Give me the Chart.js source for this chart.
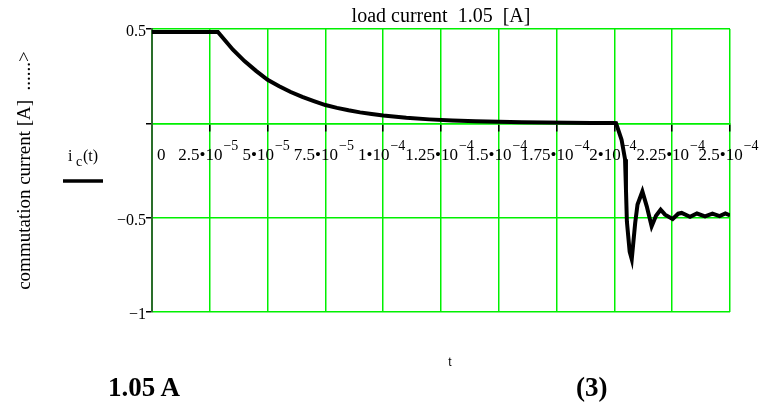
<!DOCTYPE html>
<html>
<head>
<meta charset="utf-8">
<script src="https://cdn.jsdelivr.net/npm/chart.js@4/dist/chart.umd.min.js"></script>
<style>
  body { margin: 0; background: #fff; }
  #wrap { position: relative; width: 761px; height: 410px; }
  .cap { position: absolute; font-family: 'Liberation Serif', 'Times New Roman', serif; font-weight: bold; font-size: 27px; line-height: 1; }
</style>
</head>
<body>
<div id="wrap">
  <canvas id="commutationChart" width="761" height="410"></canvas>
  <div class="cap" style="left:108px; top:374px;">1.05 A</div>
  <div class="cap" style="left:576px; top:374px;">(3)</div>
</div>
<script>
// time in seconds, current in A
const timeS = [
  0, 1e-5, 2e-5, 2.85e-5, 3.5e-5, 4e-5, 4.5e-5, 5e-5, 5.5e-5, 6e-5, 6.5e-5, 7e-5,
  7.5e-5, 8e-5, 8.5e-5, 9e-5, 9.5e-5, 1e-4, 1.1e-4, 1.2e-4, 1.3e-4, 1.4e-4, 1.5e-4,
  1.6e-4, 1.7e-4, 1.8e-4, 1.9e-4, 2.0e-4, 2.007e-4, 2.031e-4, 2.046e-4, 2.050e-4,
  2.054e-4, 2.060e-4, 2.066e-4, 2.075e-4, 2.090e-4, 2.100e-4, 2.121e-4, 2.140e-4,
  2.161e-4, 2.180e-4, 2.200e-4, 2.219e-4, 2.252e-4, 2.276e-4, 2.291e-4, 2.327e-4,
  2.357e-4, 2.392e-4, 2.424e-4, 2.455e-4, 2.480e-4, 2.500e-4
];
const currentA = [
  0.484, 0.484, 0.484, 0.484, 0.39, 0.33, 0.278, 0.231, 0.197, 0.166, 0.140, 0.118,
  0.097, 0.082, 0.069, 0.058, 0.049, 0.041, 0.029, 0.021, 0.015, 0.011, 0.008,
  0.006, 0.004, 0.003, 0.002, 0.002, 0.0015, -0.087, -0.19, -0.35,
  -0.52, -0.60, -0.68, -0.72, -0.527, -0.43, -0.361, -0.44,
  -0.546, -0.49, -0.458, -0.484, -0.507, -0.479, -0.475, -0.495,
  -0.478, -0.493, -0.478, -0.492, -0.478, -0.488
];

const xTickValues = [0, 2.5e-5, 5e-5, 7.5e-5, 1e-4, 1.25e-4, 1.5e-4, 1.75e-4, 2e-4, 2.25e-4, 2.5e-4];
const xTickMantissa = ['0', '2.5', '5', '7.5', '1', '1.25', '1.5', '1.75', '2', '2.25', '2.5'];
const xTickExponent = ['', '\u22125', '\u22125', '\u22125', '\u22124', '\u22124', '\u22124', '\u22124', '\u22124', '\u22124', '\u22124'];
const yTickLabels = { '0.5': '0.5', '0': '', '-0.5': '\u22120.5', '-1': '\u22121' };

const serif = "'Liberation Serif', 'Times New Roman', serif";
const gridGreen = '#00f000';

// mathcad style tick labels with superscripts, legend and axis name
const mathcadText = {
  id: 'mathcadText',
  beforeDatasetsDraw(chart) {
    const ctx = chart.ctx;
    const xs = chart.scales.x;
    const y0 = chart.scales.y.getPixelForValue(0);
    ctx.save();
    ctx.fillStyle = '#000';
    ctx.textBaseline = 'alphabetic';
    ctx.textAlign = 'left';
    xTickValues.forEach((v, i) => {
      const px = xs.getPixelForValue(v);
      if (!xTickExponent[i]) {
        ctx.font = '17px ' + serif;
        ctx.fillText(xTickMantissa[i], px + 5, y0 + 37);
        return;
      }
      const base = xTickMantissa[i] + '\u202210';
      ctx.font = '17px ' + serif;
      const wb = ctx.measureText(base).width;
      ctx.font = '14px ' + serif;
      const we = ctx.measureText(xTickExponent[i]).width;
      const start = px - 2 - (wb + we) / 2;
      ctx.font = '17px ' + serif;
      ctx.fillText(base, start, y0 + 37);
      ctx.font = '14px ' + serif;
      ctx.fillText(xTickExponent[i], start + wb + 1, y0 + 26.5);
    });
    ctx.restore();
  },
  afterDraw(chart) {
    const ctx = chart.ctx;
    ctx.save();
    ctx.fillStyle = '#000';
    ctx.textBaseline = 'alphabetic';
    ctx.textAlign = 'left';
    // legend
    ctx.font = '16px ' + serif;
    ctx.fillText('i', 68, 161);
    ctx.font = '14px ' + serif;
    ctx.fillText('c', 76, 166);
    ctx.font = '16px ' + serif;
    ctx.fillText('(t)', 83, 161);
    ctx.strokeStyle = '#000';
    ctx.lineWidth = 3.5;
    ctx.beginPath();
    ctx.moveTo(63, 181);
    ctx.lineTo(103, 181);
    ctx.stroke();
    // x axis name
    ctx.font = "12px 'Liberation Sans', Arial, sans-serif";
    ctx.textAlign = 'center';
    ctx.fillText('t', 450, 366);
    ctx.restore();
  }
};

const points = timeS.map((t, i) => ({ x: t, y: currentA[i] }));

new Chart(document.getElementById('commutationChart'), {
  type: 'line',
  data: {
    datasets: [{
      label: 'i c(t)',
      data: points,
      borderColor: '#000',
      borderWidth: 4,
      pointRadius: 0,
      tension: 0,
      fill: false
    }]
  },
  options: {
    responsive: false,
    animation: false,
    layout: { padding: { left: 0, top: 0, right: 31, bottom: 98 } },
    plugins: {
      legend: { display: false },
      tooltip: { enabled: false },
      title: {
        display: true,
        text: 'load current  1.05  [A]',
        fullSize: false,
        color: '#000',
        font: { family: serif, size: 20, weight: 'normal' },
        padding: { top: 5, bottom: 0 }
      }
    },
    scales: {
      x: {
        type: 'linear',
        position: { y: 0 },
        min: 0,
        max: 2.5e-4,
        afterFit: (s) => { s.height = 0; },
        afterBuildTicks: (s) => { s.ticks = xTickValues.map(v => ({ value: v })); },
        ticks: { display: false },
        grid: { color: gridGreen, lineWidth: 1.5, tickColor: '#000', tickLength: 7 },
        border: { color: gridGreen, width: 1.5 }
      },
      y: {
        min: -1,
        max: 0.5,
        afterFit: (s) => { s.width = 152; },
        ticks: {
          stepSize: 0.5,
          padding: 0,
          labelOffset: 3,
          color: '#000',
          font: { family: serif, size: 16 },
          callback: (v) => yTickLabels[String(v)]
        },
        grid: { color: gridGreen, lineWidth: 1.5, tickColor: '#000', tickLength: 6 },
        border: { color: '#2a6e2a', width: 2 },
        title: {
          display: true,
          text: 'commutation current [A]  ......>',
          color: '#000',
          font: { family: serif, size: 19 },
          padding: { top: 14, bottom: 0 }
        }
      }
    }
  },
  plugins: [mathcadText]
});
</script>
</body>
</html>
